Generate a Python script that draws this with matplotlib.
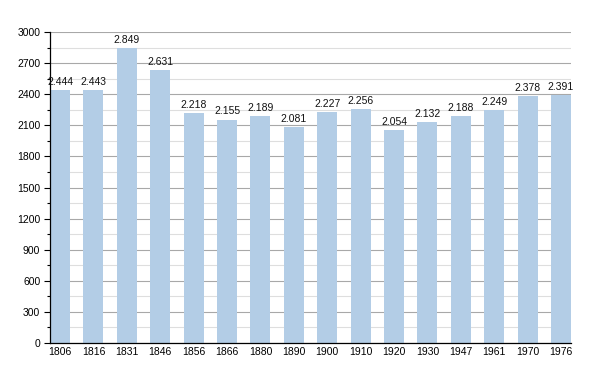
import matplotlib
matplotlib.use("Agg")
import matplotlib.pyplot as plt
from matplotlib.ticker import MultipleLocator

years = ["1806", "1816", "1831", "1846", "1856", "1866", "1880", "1890",
         "1900", "1910", "1920", "1930", "1947", "1961", "1970", "1976"]
population = [2444, 2443, 2849, 2631, 2218, 2155, 2189, 2081,
              2227, 2256, 2054, 2132, 2188, 2249, 2378, 2391]
yticks = [0, 300, 600, 900, 1200, 1500, 1800, 2100, 2400, 2700, 3000]

plt.rcParams['font.family'] = ['Liberation Sans', 'DejaVu Sans']

fig = plt.figure(figsize=(6, 3.73), dpi=100)
ax = fig.add_axes([50/600, 1-343/373, 521/600, 311/373])

w = 0.6
x = list(range(len(years)))
ax.bar(x, population, width=w, color="#b3cde6", zorder=2)
for xi, v in zip(x, population):
    s = f"{v:,}".replace(",", ".")
    ax.text(xi, v + 30, s, ha="center", va="bottom", fontsize=7.5, color="#111111", zorder=3)

ax.set_xlim(-w/2, len(years) - 1 + w/2)
ax.set_ylim(0, 3000)
ax.set_yticks(yticks)
ax.set_yticklabels([str(t) for t in yticks])
ax.yaxis.set_minor_locator(MultipleLocator(150))
ax.set_xticks(x)
ax.set_xticklabels(years)

ax.grid(axis="y", which="major", color="#a8a8a8", linewidth=0.8, zorder=1)
ax.grid(axis="y", which="minor", color="#dedede", linewidth=0.8, zorder=1)
ax.set_axisbelow(True)

for sp in ["top", "right"]:
    ax.spines[sp].set_visible(False)
ax.spines["left"].set_color("black")
ax.spines["bottom"].set_color("black")
ax.spines["left"].set_linewidth(0.9)
ax.spines["bottom"].set_linewidth(0.9)

ax.tick_params(axis="y", which="major", length=4, width=0.8, labelsize=7.5, pad=3)
ax.tick_params(axis="y", which="minor", length=2, width=0.8)
ax.tick_params(axis="x", length=0, labelsize=7.5, pad=3)

fig.savefig("out.png", dpi=100)
